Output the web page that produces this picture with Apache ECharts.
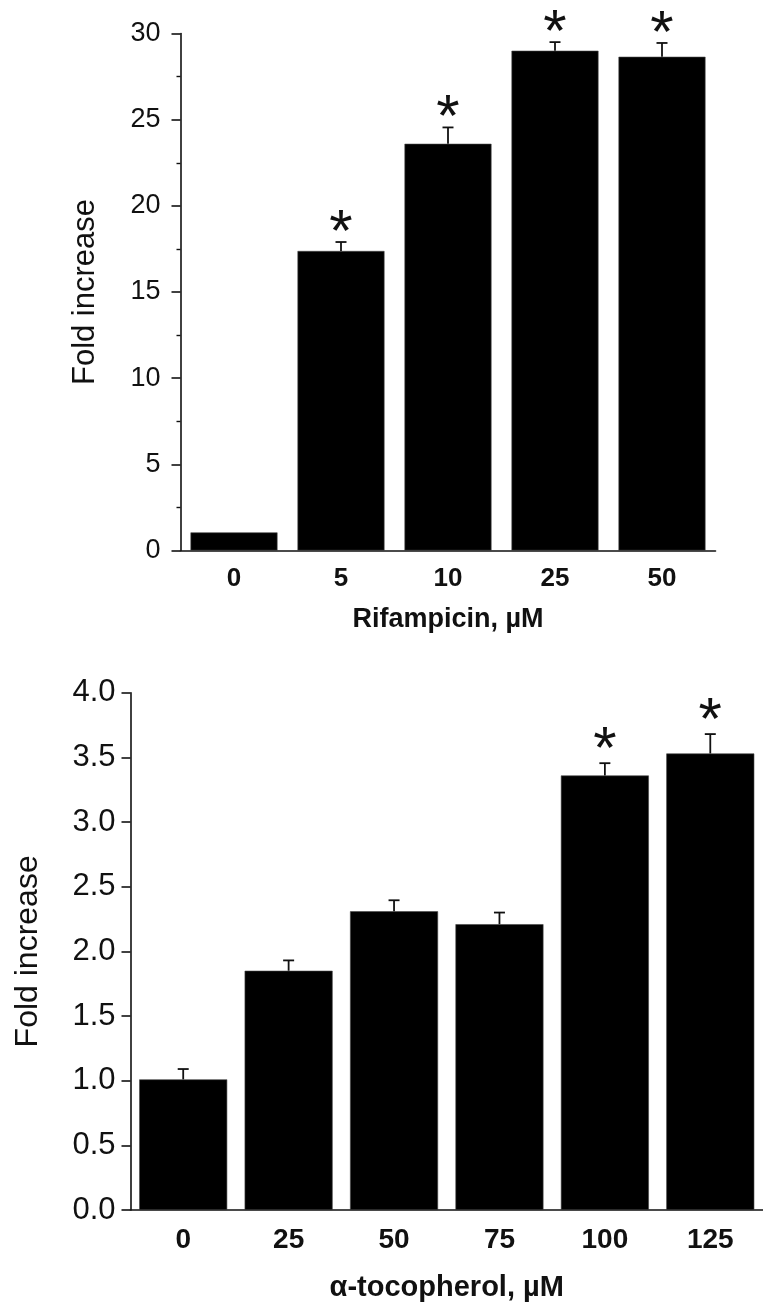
<!DOCTYPE html>
<html>
<head>
<meta charset="utf-8">
<script src="https://cdn.jsdelivr.net/npm/echarts@6/dist/echarts.min.js"></script>
<style>
html,body{margin:0;padding:0;background:#fff;}
#chart{width:763px;height:1303px;}
</style>
</head>
<body>
<div id="chart"></div>
<script>
// ---- Data ----
const rifCategories = ['0', '5', '10', '25', '50'];
const rifValues = [1.05, 17.38, 23.6, 29.0, 28.65];
const rifSem = [0, 0.52, 0.95, 0.5, 0.8];
const rifSignificant = [false, true, true, true, true];
const rifYTicks = [0, 5, 10, 15, 20, 25, 30];

const tocCategories = ['0', '25', '50', '75', '100', '125'];
const tocValues = [1.01, 1.85, 2.31, 2.21, 3.36, 3.53];
const tocSem = [0.08, 0.08, 0.085, 0.09, 0.095, 0.15];
const tocSignificant = [false, false, false, false, true, true];
const tocYTicks = [0.0, 0.5, 1.0, 1.5, 2.0, 2.5, 3.0, 3.5, 4.0];

const yTitle = 'Fold increase';
const rifXTitle = 'Rifampicin, \u00b5M';
const tocXTitle = '\u03b1-tocopherol, \u00b5M';

// ---- Styles ----
const FONT = "'Liberation Sans', Arial, sans-serif";
const INK = '#111';
const STAR_SIZE = 60;

function errData(values, sem, sig) {
  return values.map((v, i) => [i, v, sem[i] > 0 ? v + sem[i] : null, sig[i] ? 1 : 0]);
}

function makeRender(starGap) {
  return function (params, api) {
    const idx = api.value(0);
    const v = api.value(1);
    const top = api.value(2);
    const sig = api.value(3);
    const children = [];
    const pBar = api.coord([idx, v]);
    let capY = pBar[1];
    if (top !== null && !isNaN(top)) {
      const pTop = api.coord([idx, top]);
      capY = pTop[1];
      children.push({
        type: 'line',
        shape: { x1: pBar[0], y1: pBar[1], x2: pTop[0], y2: pTop[1] },
        style: { stroke: INK, lineWidth: 1.8 }
      });
      children.push({
        type: 'line',
        shape: { x1: pTop[0] - 5.5, y1: pTop[1], x2: pTop[0] + 5.5, y2: pTop[1] },
        style: { stroke: INK, lineWidth: 1.8 }
      });
    }
    if (sig) {
      children.push({
        type: 'text',
        x: pBar[0],
        y: capY - starGap + STAR_SIZE * 0.225,
        style: {
          text: '*',
          fontSize: STAR_SIZE,
          fontFamily: FONT,
          fill: INK,
          align: 'center',
          verticalAlign: 'middle'
        }
      });
    }
    return { type: 'group', children: children };
  };
}

const chart = echarts.init(document.getElementById('chart'), null, { renderer: 'canvas' });

function yAxisCfg(gridIndex, ticks, opts) {
  const interval = ticks[1] - ticks[0];
  return {
    type: 'value',
    gridIndex: gridIndex,
    min: ticks[0],
    max: ticks[ticks.length - 1],
    interval: interval,
    name: yTitle,
    nameLocation: 'middle',
    nameGap: opts.nameGap,
    nameTextStyle: { fontSize: opts.nameSize, fontFamily: FONT, color: INK },
    axisLine: { show: true, lineStyle: { color: INK, width: 1.6 } },
    axisTick: { show: true, length: 9, lineStyle: { color: INK, width: 1.6 } },
    minorTick: { show: opts.minor, splitNumber: 2, length: 4, lineStyle: { color: INK, width: 1.4 } },
    splitLine: { show: false },
    axisLabel: {
      fontSize: opts.labelSize, fontFamily: FONT, color: INK, margin: opts.labelMargin,
      formatter: function (val) { return opts.decimals ? val.toFixed(1) : String(val); }
    }
  };
}

function xAxisCfg(gridIndex, cats, opts) {
  return {
    type: 'category',
    gridIndex: gridIndex,
    data: cats,
    name: opts.title,
    nameLocation: 'middle',
    nameGap: opts.nameGap,
    nameTextStyle: { fontSize: opts.nameSize, fontWeight: 'bold', fontFamily: FONT, color: INK },
    axisLine: { show: true, lineStyle: { color: INK, width: 1.6 } },
    axisTick: { show: false },
    splitLine: { show: false },
    axisLabel: { fontSize: opts.labelSize, fontWeight: 'bold', fontFamily: FONT, color: INK, margin: opts.labelMargin, interval: 0 }
  };
}

chart.setOption({
  animation: false,
  backgroundColor: '#fff',
  grid: [
    { left: 180.5, top: 33.5, width: 535, height: 517 },
    { left: 130.5, top: 692.7, width: 642, height: 517.8 }
  ],
  xAxis: [
    xAxisCfg(0, rifCategories, { title: rifXTitle, nameGap: 56, nameSize: 27, labelSize: 26, labelMargin: 15 }),
    xAxisCfg(1, tocCategories, { title: tocXTitle, nameGap: 63, nameSize: 29, labelSize: 28, labelMargin: 16 })
  ],
  yAxis: [
    yAxisCfg(0, rifYTicks, { nameGap: 80, nameSize: 31, labelSize: 27, labelMargin: 20, minor: true, decimals: false }),
    yAxisCfg(1, tocYTicks, { nameGap: 86, nameSize: 32, labelSize: 31, labelMargin: 15, minor: false, decimals: true })
  ],
  series: [
    {
      type: 'bar', xAxisIndex: 0, yAxisIndex: 0, data: rifValues,
      barWidth: 87, itemStyle: { color: '#000', borderColor: '#444', borderWidth: 0.6 }
    },
    {
      type: 'custom', xAxisIndex: 0, yAxisIndex: 0, z: 5,
      data: errData(rifValues, rifSem, rifSignificant),
      renderItem: makeRender(21)
    },
    {
      type: 'bar', xAxisIndex: 1, yAxisIndex: 1, data: tocValues,
      barWidth: 88, itemStyle: { color: '#000', borderColor: '#444', borderWidth: 0.6 }
    },
    {
      type: 'custom', xAxisIndex: 1, yAxisIndex: 1, z: 5,
      data: errData(tocValues, tocSem, tocSignificant),
      renderItem: makeRender(25)
    }
  ]
});
</script>
</body>
</html>
